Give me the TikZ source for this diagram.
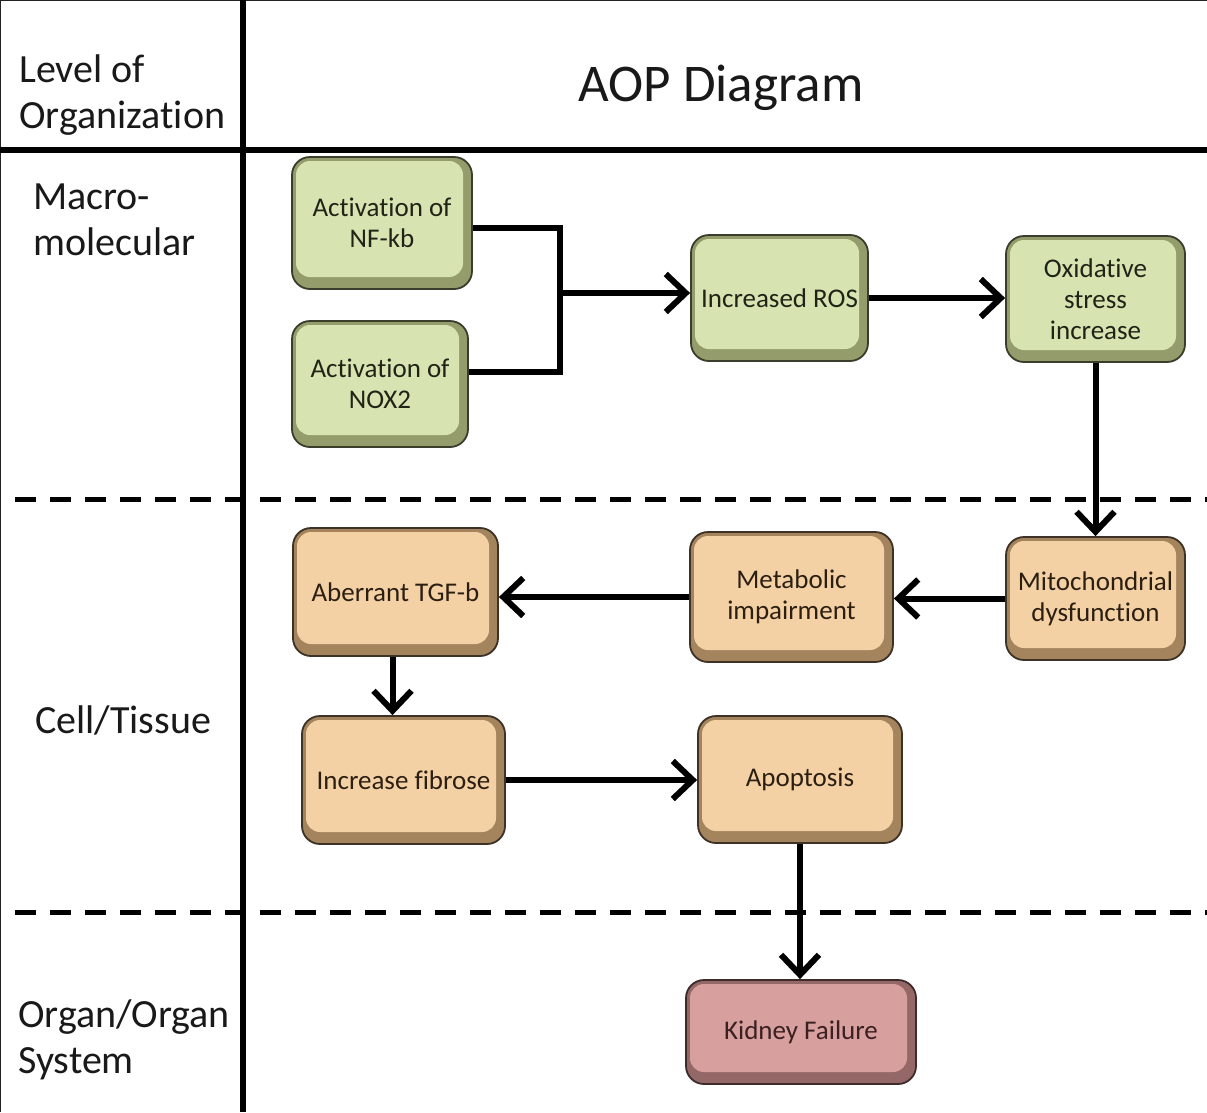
\documentclass[tikz,border=0pt]{standalone}
\usepackage{fontspec}
\setmainfont[Ligatures={NoCommon}]{Carlito}
\usetikzlibrary{arrows.meta,calc}
\definecolor{gLight}{HTML}{D7E3B1}
\definecolor{gDark}{HTML}{959C6C}
\definecolor{gOut}{HTML}{3A3D2B}
\definecolor{gTxt}{HTML}{1F2416}
\definecolor{oLight}{HTML}{F3D1A5}
\definecolor{oDark}{HTML}{A3845C}
\definecolor{oOut}{HTML}{3E3125}
\definecolor{oTxt}{HTML}{2C1F12}
\definecolor{pLight}{HTML}{D7A09E}
\definecolor{pDark}{HTML}{946866}
\definecolor{pOut}{HTML}{3E2B2A}
\definecolor{pTxt}{HTML}{3A2020}
\definecolor{frameC}{HTML}{222222}
\tikzset{
  aop/.style={rounded corners=18pt, line width=1.8pt, inner sep=2pt, align=center,
    font=\fontsize{27}{31}\selectfont},
  gbox/.style={aop, draw=gOut, fill=gDark, text=gTxt,
    path picture={\fill[gLight, rounded corners=14pt]
      ($(path picture bounding box.north west)+(4pt,-4pt)$) rectangle
      ($(path picture bounding box.south east)+(-9pt,12pt)$);}},
  obox/.style={aop, draw=oOut, fill=oDark, text=oTxt,
    path picture={\fill[oLight, rounded corners=14pt]
      ($(path picture bounding box.north west)+(4pt,-4pt)$) rectangle
      ($(path picture bounding box.south east)+(-9pt,12pt)$);}},
  pbox/.style={aop, draw=pOut, fill=pDark, text=pTxt,
    path picture={\fill[pLight, rounded corners=14pt]
      ($(path picture bounding box.north west)+(4pt,-4pt)$) rectangle
      ($(path picture bounding box.south east)+(-9pt,12pt)$);}},
  conn/.style={line width=6pt, black},
  arr/.style={conn, -{Straight Barb[length=20pt,width=38pt]}},
  gridline/.style={line width=6pt, black},
  dashline/.style={line width=5pt, black, dash pattern=on 21pt off 14pt},
  lvl/.style={anchor=base west, align=left, inner sep=0pt, text=black!90,
    font=\fontsize{40}{46}\selectfont},
}
\begin{document}
\begin{tikzpicture}[x=1pt,y=-1pt]
\useasboundingbox (0,0) rectangle (1207,1112);
\fill[white] (0,0) rectangle (1207,1112);
% frame
\draw[frameC, line width=2pt] (0,1112) -- (0,0) -- (1207,0);
\draw[gridline] (243,0) -- (243,1112);
\draw[gridline] (0,150) -- (1207,150);
\draw[dashline] (15,499) -- (1207,499);
\draw[dashline] (15,912) -- (1207,912);
% header and level labels
\node[anchor=base, inner sep=0pt, font=\fontsize{53}{62}\selectfont, text=black!90] (title) at (721,101) {AOP Diagram};
\node[lvl] (hdr) at (19,128) {Level of\\Organization};
\node[lvl] (macro) at (33,255) {Macro-\\molecular};
\node[lvl] (cell) at (35,733) {Cell/Tissue};
\node[lvl] (organ) at (18,1073) {Organ/Organ\\System};
% boxes
\node[gbox, minimum width=180pt, minimum height=132pt] (nfkb) at (382,223) {Activation of\\NF-kb};
\node[gbox, minimum width=176pt, minimum height=126pt] (nox2) at (380,384) {Activation of\\NOX2};
\node[gbox, minimum width=177pt, minimum height=126pt] (ros) at (779.5,298) {Increased ROS};
\node[gbox, minimum width=179pt, minimum height=126pt] (ox) at (1095.5,299) {Oxidative\\stress\\increase};
\node[obox, minimum width=179pt, minimum height=123pt] (mito) at (1095.5,598.5) {Mitochondrial\\dysfunction};
\node[obox, minimum width=203pt, minimum height=130pt] (meta) at (791.5,597) {Metabolic\\impairment};
\node[obox, minimum width=205pt, minimum height=128pt] (tgf) at (395.5,592) {Aberrant TGF-b};
\node[obox, minimum width=203pt, minimum height=128pt] (fib) at (403.5,780) {Increase fibrose};
\node[obox, minimum width=204pt, minimum height=127pt] (apo) at (800,779.5) {Apoptosis};
\node[pbox, minimum width=230pt, minimum height=104pt] (kid) at (801,1032) {Kidney Failure};
% connectors
\coordinate (j) at (560,293);
\draw[conn, line join=miter] ([yshift=-5pt]nfkb.east) -| (j) |- ([yshift=12pt]nox2.east);
\draw[arr] (j) -- (ros.west |- j);
\draw[arr] (ros.east) -- (ox.west |- ros.east);
\draw[arr] (ox.south) -- (ox.south |- mito.north);
\draw[arr] (mito.west) -- (meta.east |- mito.west);
\draw[arr] (meta.west) -- (tgf.east |- meta.west);
\draw[arr] ([xshift=-3pt]tgf.south) -- ([xshift=-3pt]tgf.south |- fib.north);
\draw[arr] (fib.east) -- (apo.west |- fib.east);
\draw[arr] (apo.south) -- (apo.south |- kid.north);
\end{tikzpicture}
\end{document}
